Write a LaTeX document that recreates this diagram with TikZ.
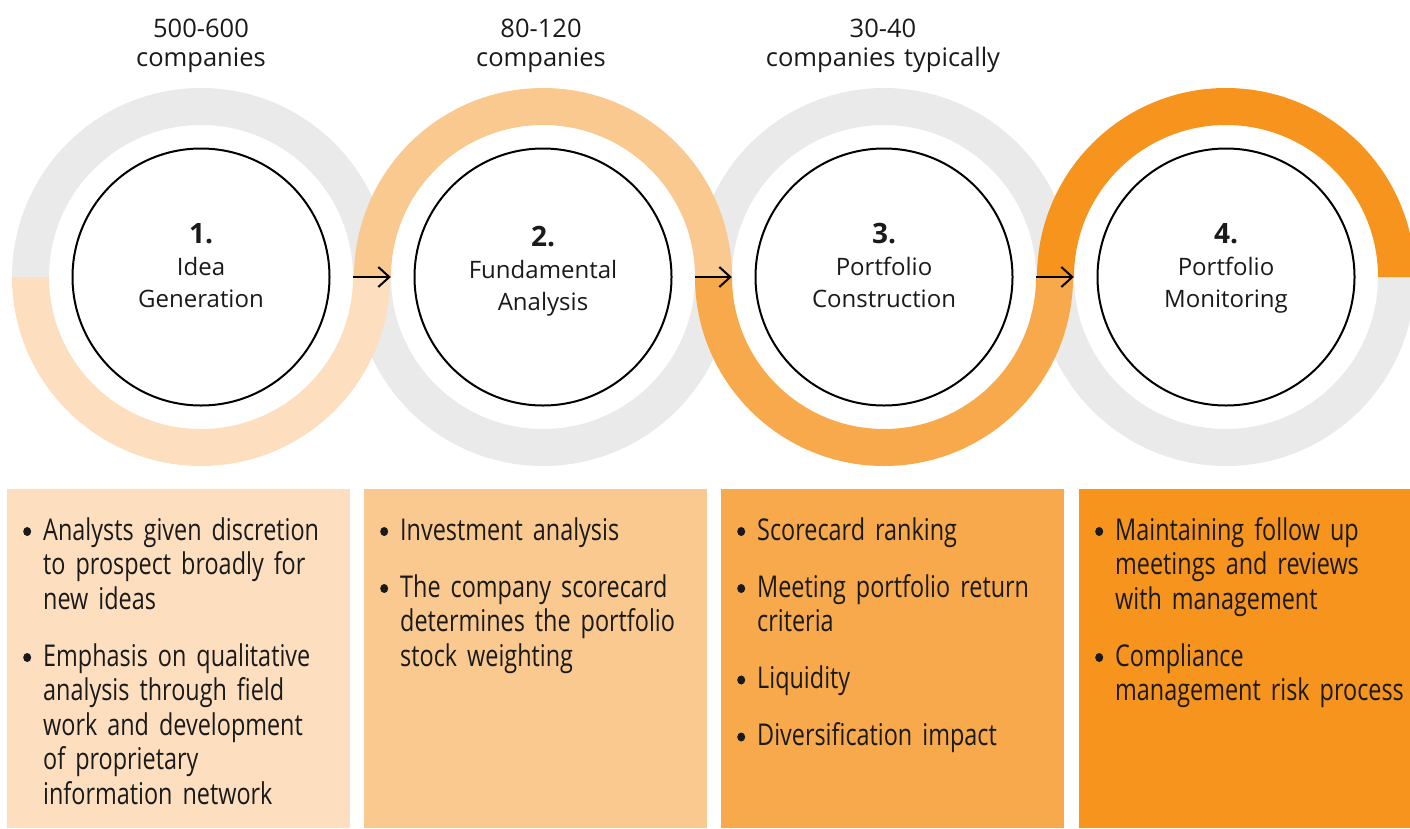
\documentclass[tikz,border=0pt]{standalone}
\usepackage{fontspec}
\setmainfont{Open Sans}
\newfontfamily\boxfont{Open Sans}[FakeStretch=0.78]
\usetikzlibrary{arrows.meta, positioning, calc}

\definecolor{ringgray}{HTML}{E9EAE9}
\definecolor{peachA}{HTML}{FDDFC0}
\definecolor{peachB}{HTML}{F9C98F}
\definecolor{orangeC}{HTML}{F7A94C}
\definecolor{orangeD}{HTML}{F7941E}
\definecolor{inktext}{HTML}{1A1A1A}

% bullet and hanging indent for the box texts
\newcommand{\bul}{\makebox[20pt][l]{\tikz[baseline=0pt]\fill[inktext] (4pt,8.5pt) ellipse[x radius=4pt, y radius=4.5pt];}}
\newcommand{\ind}{\hspace*{20pt}}

% half of a ring: centre, start angle, colour
\newcommand{\halfring}[3]{%
  \fill[#3] ($(#1)+(#2:189)$) arc[start angle=#2, delta angle=-180, radius=189]
    -- ($(#1)+(#2-180:152)$) arc[start angle=#2-180, delta angle=180, radius=152] -- cycle;}

\tikzset{
  whitegap/.style={circle, minimum size=304pt, inner sep=0pt},
  stage/.style={circle, draw=black, line width=2pt, fill=white, minimum size=257pt, inner sep=0pt},
  stagetext/.style={anchor=base, text width=250pt, align=center, text=inktext,
    font=\fontsize{24}{32}\selectfont},
  headtext/.style={anchor=base, text width=320pt, align=center, text=inktext,
    font=\fontsize{25.5}{29}\selectfont},
  infobox/.style={rectangle, anchor=north west, minimum width=343pt, minimum height=339pt, inner sep=0pt},
  boxtext/.style={anchor=base west, text width=330pt, align=left, text=inktext, inner sep=0pt,
    font=\boxfont\fontsize{30}{34.5}\selectfont},
  flowarrow/.style={line width=2pt, -{Straight Barb[length=11pt, width=20pt, line width=2pt]}}
}

\begin{document}
\begin{tikzpicture}[x=1pt, y=1pt]
        \useasboundingbox (0,0) rectangle (1410,-828);

        % Ring centres
        \coordinate (c1) at (201, -277);
        \coordinate (c2) at (543, -277);
        \coordinate (c3) at (884, -277);
        \coordinate (c4) at (1226, -277);

        % Grey halves first, coloured halves on top
        \halfring{c1}{180}{ringgray}
        \halfring{c2}{0}{ringgray}
        \halfring{c3}{180}{ringgray}
        \halfring{c4}{0}{ringgray}
        \halfring{c1}{0}{peachA}
        \halfring{c2}{180}{peachB}
        \halfring{c3}{0}{orangeC}
        \halfring{c4}{180}{orangeD}

        % Inner circles
        \node [whitegap] (w1) at (c1) {};
        \node [whitegap] (w2) at (c2) {};
        \node [whitegap] (w3) at (c3) {};
        \node [whitegap] (w4) at (c4) {};
        \node [stage] (s1) at (c1) {};
        \node [stage] (s2) at (c2) {};
        \node [stage] (s3) at (c3) {};
        \node [stage] (s4) at (c4) {};

        % Stage names
        \node [stagetext] (t1) at ($(c1)+(0,34)$) {{\fontsize{28}{32}\selectfont\bfseries 1.}\\Idea\\Generation};
        \node [stagetext] (t2) at ($(c2)+(0,31)$) {{\fontsize{28}{32}\selectfont\bfseries 2.}\\Fundamental\\Analysis};
        \node [stagetext] (t3) at ($(c3)+(0,34)$) {{\fontsize{28}{32}\selectfont\bfseries 3.}\\Portfolio\\Construction};
        \node [stagetext] (t4) at ($(c4)+(0,34)$) {{\fontsize{28}{32}\selectfont\bfseries 4.}\\Portfolio\\Monitoring};

        % Arrows between stages
        \draw [flowarrow] (w1.east) -- (w2.west);
        \draw [flowarrow] (w2.east) -- (w3.west);
        \draw [flowarrow] (w3.east) -- (w4.west);

        % Company counts above the rings
        \node [headtext] (h1) at (201, -37) {500-600\\companies};
        \node [headtext] (h2) at (541, -37) {80-120\\companies};
        \node [headtext] (h3) at (883, -37) {30-40\\companies typically};

        % Boxes below
        \node [infobox, fill=peachA] (b1) at (7, -489) {};
        \node [infobox, fill=peachB] (b2) at (364, -489) {};
        \node [infobox, fill=orangeC] (b3) at (721, -489) {};
        \node [infobox, fill=orangeD, minimum width=331pt] (b4) at (1079, -489) {};

        \node [boxtext] (l1) at ($(b1.north west)+(16,-51)$) {\bul Analysts given discretion\\ \ind to prospect broadly for\\ \ind new ideas\\[22.5pt]
          \bul Emphasis on qualitative\\ \ind analysis through field\\ \ind work and development\\ \ind of proprietary\\ \ind information network};
        \node [boxtext] (l2) at ($(b2.north west)+(16,-51)$) {\bul Investment analysis\\[22.5pt]
          \bul The company scorecard\\ \ind determines the portfolio\\ \ind stock weighting};
        \node [boxtext] (l3) at ($(b3.north west)+(16,-51)$) {\bul Scorecard ranking\\[22.5pt]
          \bul Meeting portfolio return\\ \ind criteria\\[22.5pt]
          \bul Liquidity\\[22.5pt]
          \bul Diversification impact};
        \node [boxtext] (l4) at ($(b4.north west)+(16,-51)$) {\bul Maintaining follow up\\ \ind meetings and reviews\\ \ind with management\\[22.5pt]
          \bul Compliance\\ \ind management risk process};
    \end{tikzpicture}
\end{document}
